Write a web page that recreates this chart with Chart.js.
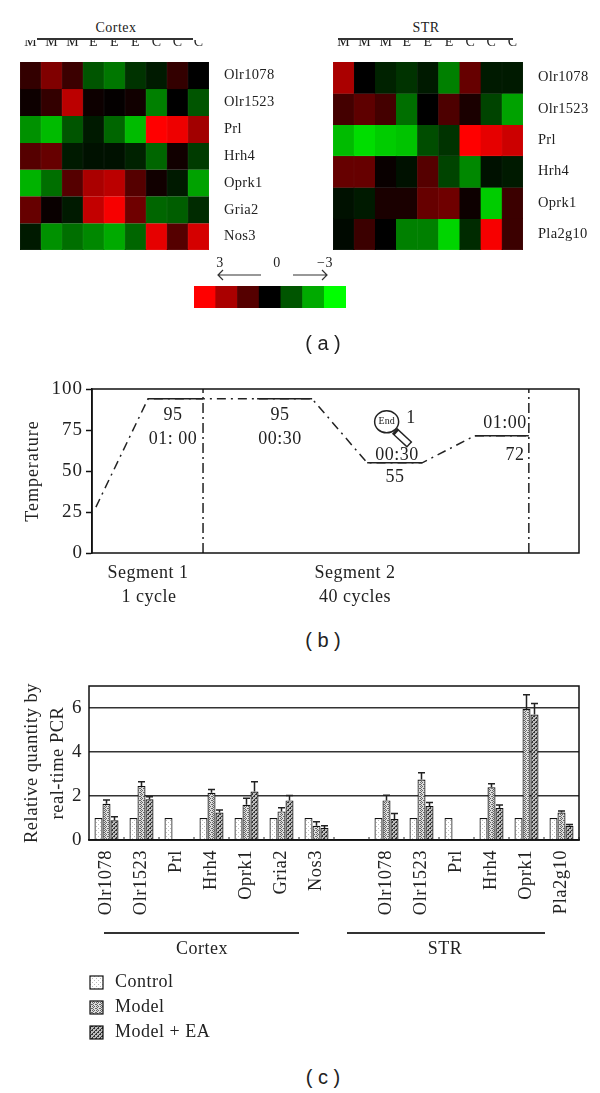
<!DOCTYPE html>
<html lang="en">

<head>
    <meta charset="UTF-8">
    <title>Cortex and STR expression</title>
    <script src="https://cdn.jsdelivr.net/npm/chart.js"></script>
    <style>
        body {
            margin: 0;
            background: #fff;
            width: 600px;
            height: 1093px;
            position: relative;
            overflow: hidden;
            font-family: "Liberation Serif", serif;
            color: #222;
        }

        canvas {
            position: absolute;
        }

        .txt {
            position: absolute;
            transform: translate(-50%, -50%);
            white-space: nowrap;
            letter-spacing: 0.5px;
            line-height: 1;
        }

        .cap {
            font-family: "Liberation Sans", sans-serif;
            letter-spacing: 0;
        }

        .rule {
            position: absolute;
            height: 1.5px;
            background: #333;
        }
    </style>
</head>

<body>
    <canvas id="heatCortex" width="300" height="212" style="left:0;top:40px"></canvas>
    <canvas id="heatStr" width="286" height="212" style="left:314px;top:40px"></canvas>
    <canvas id="colorBar" width="200" height="60" style="left:170px;top:250px"></canvas>
    <canvas id="tempChart" width="600" height="190" style="left:0;top:375px"></canvas>
    <canvas id="pcrChart" width="600" height="375" style="left:0;top:670px"></canvas>

    <script>
        // heat map data, log ratio -3..3
        const sampleLabels = ['M', 'M', 'M', 'E', 'E', 'E', 'C', 'C', 'C'];
        const cortexGenes = ['Olr1078', 'Olr1523', 'Prl', 'Hrh4', 'Oprk1', 'Gria2', 'Nos3'];
        const cortexValues = [
            [0.6, 1.5, 0.7, -1.0, -1.4, -0.6, -0.3, 0.6, 0],
            [0.15, 0.6, 2.2, 0.15, 0.05, 0.2, -1.5, 0, -1.0],
            [-1.7, -2.2, -1.0, -0.3, -1.2, -2.2, 3, 2.8, 1.9],
            [1.0, 1.2, -0.3, -0.2, -0.2, -0.4, -1.2, 0.2, -0.7],
            [-2.1, -1.3, 1.0, 2.0, 2.2, 1.0, 0.2, -0.3, -1.9],
            [1.2, 0.1, -0.3, 2.3, 2.9, 1.3, -1.2, -1.1, -0.5],
            [-0.3, -1.7, -1.3, -1.6, -2.0, -1.2, 2.7, 1.0, 2.5]
        ];
        const strGenes = ['Olr1078', 'Olr1523', 'Prl', 'Hrh4', 'Oprk1', 'Pla2g10'];
        const strValues = [
            [2.0, 0, -0.4, -0.6, -0.3, -1.5, 1.2, -0.3, -0.3],
            [0.8, 1.1, 0.8, -1.3, 0, 0.9, 0.3, -0.8, -1.9],
            [-2.2, -2.6, -2.4, -2.3, -0.9, -0.6, 3, 2.7, 2.4],
            [1.2, 1.2, 0.1, -0.2, 1.0, -0.8, -1.6, -0.2, -0.3],
            [-0.2, -0.3, 0.3, 0.3, 1.2, 1.3, 0.15, -2.4, 0.7],
            [-0.1, 0.7, 0, -1.5, -1.5, -2.5, -0.5, 2.9, 0.7]
        ];
        const scaleSteps = [3, 2, 1, 0, -1, -2, -3];

        // temperature profile
        const stepTimes = [0.8, 11.5, 22.8, 33.9, 45.2, 56.5, 67.8, 78.6, 89.7];
        const stepTemps = [28, 94, 94, 94, 94, 55, 55, 71.5, 71.5];
        const holdStarts = [11.5, 33.9, 56.5, 78.6];
        const holdEnds = [22.8, 45.2, 67.8, 89.7];
        const holdTemps = [94, 94, 55, 71.5];
        const segmentEnds = [22.8, 89.7];
        const tempTicks = [0, 25, 50, 75, 100];

        // real-time PCR
        const pcrGenes = ['Olr1078', 'Olr1523', 'Prl', 'Hrh4', 'Oprk1', 'Gria2', 'Nos3', '',
            'Olr1078', 'Olr1523', 'Prl', 'Hrh4', 'Oprk1', 'Pla2g10'];
        const controlValues = [1, 1, 1, 1, 1, 1, 1, null, 1, 1, 1, 1, 1, 1];
        const modelValues = [1.65, 2.45, 0.03, 2.15, 1.6, 1.3, 0.65, null, 1.8, 2.75, 0.02, 2.4, 5.95, 1.25];
        const modelEaValues = [0.9, 1.85, 0.02, 1.25, 2.2, 1.8, 0.55, null, 0.95, 1.55, 0.02, 1.45, 5.7, 0.65];
        const modelUpper = [1.82, 2.65, null, 2.3, 1.9, 1.47, 0.83, null, 2.03, 3.06, null, 2.56, 6.6, 1.32];
        const modelEaUpper = [1.06, 1.97, null, 1.36, 2.65, 2.02, 0.65, null, 1.2, 1.71, null, 1.59, 6.2, 0.71];

        const SERIF = 'Liberation Serif';
        const INK = '#222';

        function heatColor(v) {
            const c = Math.round(Math.abs(v) * 85);
            return v >= 0 ? `rgb(${c},0,0)` : `rgb(0,${c},0)`;
        }

        // letter spacing of the original typeface, canvas state gets reset so set it each pass
        function spacing(px) {
            const apply = chart => { chart.ctx.letterSpacing = px + 'px'; };
            return { id: 'spacing', beforeUpdate: apply, beforeDraw: apply };
        }

        // fixed axis box, and no extra room for the half height of the end labels
        function fixedWidth(w) {
            return s => {
                s.width = w;
                s.paddingTop = 0;
                s.paddingBottom = 0;
            };
        }

        const frame = {
            id: 'frame',
            afterDatasetsDraw(chart) {
                const { ctx, chartArea: a } = chart;
                ctx.save();
                ctx.strokeStyle = '#111';
                ctx.lineWidth = 1.5;
                ctx.strokeRect(a.left, a.top, a.width, a.height);
                ctx.restore();
            }
        };

        function heatMap(id, left, genes, values) {
            new Chart(document.getElementById(id), {
                type: 'bar',
                data: {
                    labels: sampleLabels,
                    datasets: values.map((row, i) => ({
                        label: genes[i],
                        data: row.map(() => 1),
                        backgroundColor: row.map(heatColor),
                        borderColor: row.map(heatColor),
                        borderWidth: 0.5,
                        barPercentage: 1,
                        categoryPercentage: 1
                    }))
                },
                options: {
                    responsive: false,
                    animation: false,
                    layout: { padding: { left, bottom: 2 } },
                    plugins: { legend: { display: false }, tooltip: { enabled: false } },
                    scales: {
                        x: {
                            position: 'top',
                            stacked: true,
                            grid: { display: false },
                            border: { display: false },
                            ticks: { color: INK, font: { family: SERIF, size: 14 }, padding: 3, autoSkip: false, maxRotation: 0 },
                            afterFit: s => { s.height = 22; }
                        },
                        y: { stacked: true, reverse: true, min: 0, max: genes.length, display: false },
                        rows: {
                            type: 'category',
                            labels: genes,
                            offset: true,
                            position: 'right',
                            grid: { display: false },
                            border: { display: false },
                            ticks: { color: INK, font: { family: SERIF, size: 14.5 }, padding: 7, autoSkip: false },
                            afterFit: fixedWidth(id === 'heatStr' ? 77 : 91)
                        }
                    }
                },
                plugins: [spacing(0.3)]
            });
        }
        heatMap('heatCortex', 20, cortexGenes, cortexValues);
        heatMap('heatStr', 19, strGenes, strValues);

        // small arrows over the colour key
        const keyArrows = {
            id: 'keyArrows',
            afterDraw(chart) {
                const { ctx, chartArea: a } = chart;
                const y = a.top - 11;
                const arrow = (from, to) => {
                    const d = Math.sign(to - from) * 5;
                    ctx.beginPath();
                    ctx.moveTo(from, y);
                    ctx.lineTo(to, y);
                    ctx.moveTo(to - d, y - 5);
                    ctx.lineTo(to, y);
                    ctx.lineTo(to - d, y + 5);
                    ctx.stroke();
                };
                ctx.save();
                ctx.strokeStyle = '#333';
                ctx.lineWidth = 1.2;
                arrow(a.left + 67, a.left + 24);
                arrow(a.left + 99, a.left + 133);
                ctx.restore();
            }
        };

        new Chart(document.getElementById('colorBar'), {
            type: 'bar',
            data: {
                labels: scaleSteps,
                datasets: [{
                    data: scaleSteps.map(() => 1),
                    backgroundColor: scaleSteps.map(heatColor),
                    barPercentage: 1,
                    categoryPercentage: 1
                }]
            },
            options: {
                responsive: false,
                animation: false,
                layout: { padding: { left: 24, right: 24, top: 36, bottom: 2 } },
                plugins: { legend: { display: false }, tooltip: { enabled: false } },
                scales: { x: { display: false }, y: { display: false, min: 0, max: 1 } }
            },
            plugins: [keyArrows]
        });

        // magnifier icon sitting over the annealing step
        const magnifier = {
            id: 'magnifier',
            afterDatasetsDraw(chart) {
                const { ctx, scales } = chart;
                const cx = scales.x.getPixelForValue(60.5);
                const cy = scales.y.getPixelForValue(80);
                ctx.save();
                ctx.lineCap = 'butt';
                ctx.strokeStyle = INK;
                ctx.lineWidth = 8;
                ctx.beginPath();
                ctx.moveTo(cx + 8, cy + 9);
                ctx.lineTo(cx + 23, cy + 23);
                ctx.stroke();
                ctx.strokeStyle = '#fff';
                ctx.lineWidth = 5;
                ctx.beginPath();
                ctx.moveTo(cx + 10, cy + 11);
                ctx.lineTo(cx + 22, cy + 22);
                ctx.stroke();
                ctx.fillStyle = '#fff';
                ctx.strokeStyle = INK;
                ctx.lineWidth = 1.5;
                ctx.beginPath();
                ctx.ellipse(cx, cy, 12, 11, 0, 0, Math.PI * 2);
                ctx.fill();
                ctx.stroke();
                ctx.fillStyle = INK;
                ctx.font = '10px ' + SERIF;
                ctx.textAlign = 'center';
                ctx.textBaseline = 'middle';
                ctx.letterSpacing = '0px';
                ctx.fillText('End', cx, cy);
                ctx.restore();
            }
        };

        const lineBase = { pointRadius: 0, borderColor: INK, borderWidth: 1.5, tension: 0 };
        new Chart(document.getElementById('tempChart'), {
            type: 'line',
            data: {
                datasets: [
                    {
                        ...lineBase,
                        label: 'Profile',
                        data: stepTimes.map((t, i) => ({ x: t, y: stepTemps[i] })),
                        borderDash: [9, 5, 2, 5]
                    },
                    ...holdStarts.map((t, i) => ({
                        ...lineBase,
                        label: 'Hold',
                        data: [{ x: t, y: holdTemps[i] }, { x: holdEnds[i], y: holdTemps[i] }]
                    })),
                    ...segmentEnds.map(t => ({
                        ...lineBase,
                        label: 'Segment end',
                        data: [{ x: t, y: 0 }, { x: t, y: 100 }],
                        borderDash: [10, 4, 2, 4]
                    }))
                ]
            },
            options: {
                responsive: false,
                animation: false,
                layout: { padding: { left: 22, right: 21, top: 14, bottom: 12 } },
                plugins: { legend: { display: false }, tooltip: { enabled: false } },
                scales: {
                    x: { type: 'linear', min: 0, max: 100, display: false },
                    y: {
                        min: 0,
                        max: 100,
                        title: { display: true, text: 'Temperature', color: INK, font: { family: SERIF, size: 18 }, padding: 0 },
                        grid: { drawOnChartArea: false, color: '#111', tickLength: 6, tickWidth: 1.5 },
                        border: { color: '#111', width: 1.5 },
                        ticks: { color: INK, font: { family: SERIF, size: 19 }, padding: 3, stepSize: 25 },
                        afterBuildTicks: s => { s.ticks = tempTicks.map(value => ({ value })); },
                        afterFit: fixedWidth(70)
                    }
                }
            },
            plugins: [spacing(1), frame, magnifier]
        });

        // pixel fills for the bars
        function pattern(draw) {
            const c = document.createElement('canvas');
            c.width = c.height = 4;
            draw(c.getContext('2d'));
            return c.getContext('2d').createPattern(c, 'repeat');
        }
        const controlFill = pattern(g => {
            g.fillStyle = '#fff';
            g.fillRect(0, 0, 4, 4);
            g.fillStyle = '#bbb';
            g.fillRect(0, 0, 1, 1);
            g.fillRect(2, 2, 1, 1);
        });
        const modelFill = pattern(g => {
            g.fillStyle = '#ddd';
            g.fillRect(0, 0, 4, 4);
            g.fillStyle = '#666';
            [[0, 0], [2, 0], [1, 1], [3, 2], [1, 3], [0, 2]].forEach(p => g.fillRect(p[0], p[1], 1, 1));
        });
        const modelEaFill = pattern(g => {
            g.fillStyle = '#bbb';
            g.fillRect(0, 0, 4, 4);
            g.fillStyle = '#333';
            [[3, 0], [2, 1], [1, 2], [0, 3], [0, 0], [2, 2]].forEach(p => g.fillRect(p[0], p[1], 1, 1));
        });

        const errorBars = {
            id: 'errorBars',
            afterDatasetsDraw(chart) {
                const { ctx, scales } = chart;
                ctx.save();
                ctx.strokeStyle = INK;
                ctx.lineWidth = 1.5;
                chart.data.datasets.forEach((ds, d) => {
                    if (!ds.upper) return;
                    chart.getDatasetMeta(d).data.forEach((bar, i) => {
                        if (ds.upper[i] == null) return;
                        const top = scales.y.getPixelForValue(ds.upper[i]);
                        ctx.beginPath();
                        ctx.moveTo(bar.x, bar.y);
                        ctx.lineTo(bar.x, top);
                        ctx.moveTo(bar.x - 3.5, top);
                        ctx.lineTo(bar.x + 3.5, top);
                        ctx.stroke();
                    });
                });
                // small category ticks pointing up from the axis
                const a = chart.chartArea;
                ctx.lineWidth = 1;
                pcrGenes.forEach((g, i) => {
                    const x = a.left + (i + 1) * a.width / pcrGenes.length;
                    ctx.beginPath();
                    ctx.moveTo(x, a.bottom);
                    ctx.lineTo(x, a.bottom - 3);
                    ctx.stroke();
                });
                ctx.restore();
            }
        };

        // stacked legend below the axis labels, one row per dataset
        const stackedLegend = {
            id: 'stackedLegend',
            afterDraw(chart) {
                const { ctx, chartArea: a } = chart;
                ctx.save();
                ctx.font = '18px ' + SERIF;
                ctx.textBaseline = 'middle';
                chart.data.datasets.forEach((ds, i) => {
                    const y = a.bottom + 136 + i * 25;
                    ctx.fillStyle = ds.backgroundColor;
                    ctx.strokeStyle = '#111';
                    ctx.lineWidth = 1.2;
                    ctx.fillRect(a.left + 1, y, 13, 13);
                    ctx.strokeRect(a.left + 1, y, 13, 13);
                    ctx.fillStyle = INK;
                    ctx.fillText(ds.label, a.left + 26, y + 6);
                });
                ctx.restore();
            }
        };

        const barBase = { borderColor: '#111', borderWidth: 1.2, barPercentage: 1, categoryPercentage: 24 / 35 };
        new Chart(document.getElementById('pcrChart'), {
            type: 'bar',
            data: {
                labels: pcrGenes,
                datasets: [
                    { ...barBase, label: 'Control', data: controlValues, backgroundColor: controlFill },
                    { ...barBase, label: 'Model', data: modelValues, upper: modelUpper, backgroundColor: modelFill },
                    { ...barBase, label: 'Model + EA', data: modelEaValues, upper: modelEaUpper, backgroundColor: modelEaFill }
                ]
            },
            options: {
                responsive: false,
                animation: false,
                layout: { padding: { left: 19, right: 21, top: 16, bottom: 125 } },
                plugins: { legend: { display: false }, tooltip: { enabled: false } },
                scales: {
                    x: {
                        grid: { display: false },
                        border: { color: '#111', width: 1.5 },
                        ticks: { color: INK, font: { family: SERIF, size: 18.5 }, padding: 2, autoSkip: false, minRotation: 90, maxRotation: 90 },
                        afterFit: s => { s.height = 80; s.paddingLeft = 0; s.paddingRight = 0; }
                    },
                    y: {
                        min: 0,
                        max: 7,
                        title: {
                            display: true,
                            text: ['Relative quantity by', 'real-time PCR'],
                            color: INK,
                            font: { family: SERIF, size: 18.5, lineHeight: 1.42 },
                            padding: 0
                        },
                        grid: { color: '#333', lineWidth: 1.5, drawTicks: false },
                        border: { display: false },
                        ticks: { color: INK, font: { family: SERIF, size: 19 }, padding: 7, stepSize: 1 },
                        afterFit: fixedWidth(70)
                    }
                }
            },
            plugins: [spacing(0.5), frame, errorBars, stackedLegend]
        });

        // free standing text and rules around the charts
        function text(x, y, str, size, cls) {
            const el = document.createElement('div');
            el.className = 'txt' + (cls ? ' ' + cls : '');
            el.style.cssText = `left:${x}px;top:${y}px;font-size:${size}px`;
            el.textContent = str;
            document.body.appendChild(el);
        }
        function rule(x1, x2, y) {
            const el = document.createElement('div');
            el.className = 'rule';
            el.style.cssText = `left:${x1}px;top:${y}px;width:${x2 - x1}px`;
            document.body.appendChild(el);
        }

        text(116, 28, 'Cortex', 14);
        rule(37, 193, 38);
        text(426, 28, 'STR', 14);
        rule(338, 513, 38);
        text(220, 263, '3', 14);
        text(277, 263, '0', 14);
        text(325, 263, '−3', 14);
        text(323, 343, '( a )', 20, 'cap');

        text(173, 414, '95', 18);
        text(173, 438, '01: 00', 18);
        text(280, 414, '95', 18);
        text(280, 438, '00:30', 18);
        text(411, 417, '1', 18);
        text(397, 454, '00:30', 18);
        text(395, 476, '55', 18);
        text(505, 422, '01:00', 18);
        text(515, 454, '72', 18);
        text(148, 572, 'Segment 1', 18);
        text(149, 596, '1 cycle', 18);
        text(355, 572, 'Segment 2', 18);
        text(355, 596, '40 cycles', 18);
        text(323, 640, '( b )', 20, 'cap');

        rule(104, 299, 932);
        text(202, 948, 'Cortex', 18);
        rule(347, 545, 932);
        text(445, 948, 'STR', 18);
        text(323, 1077, '( c )', 20, 'cap');
    </script>
</body>

</html>
